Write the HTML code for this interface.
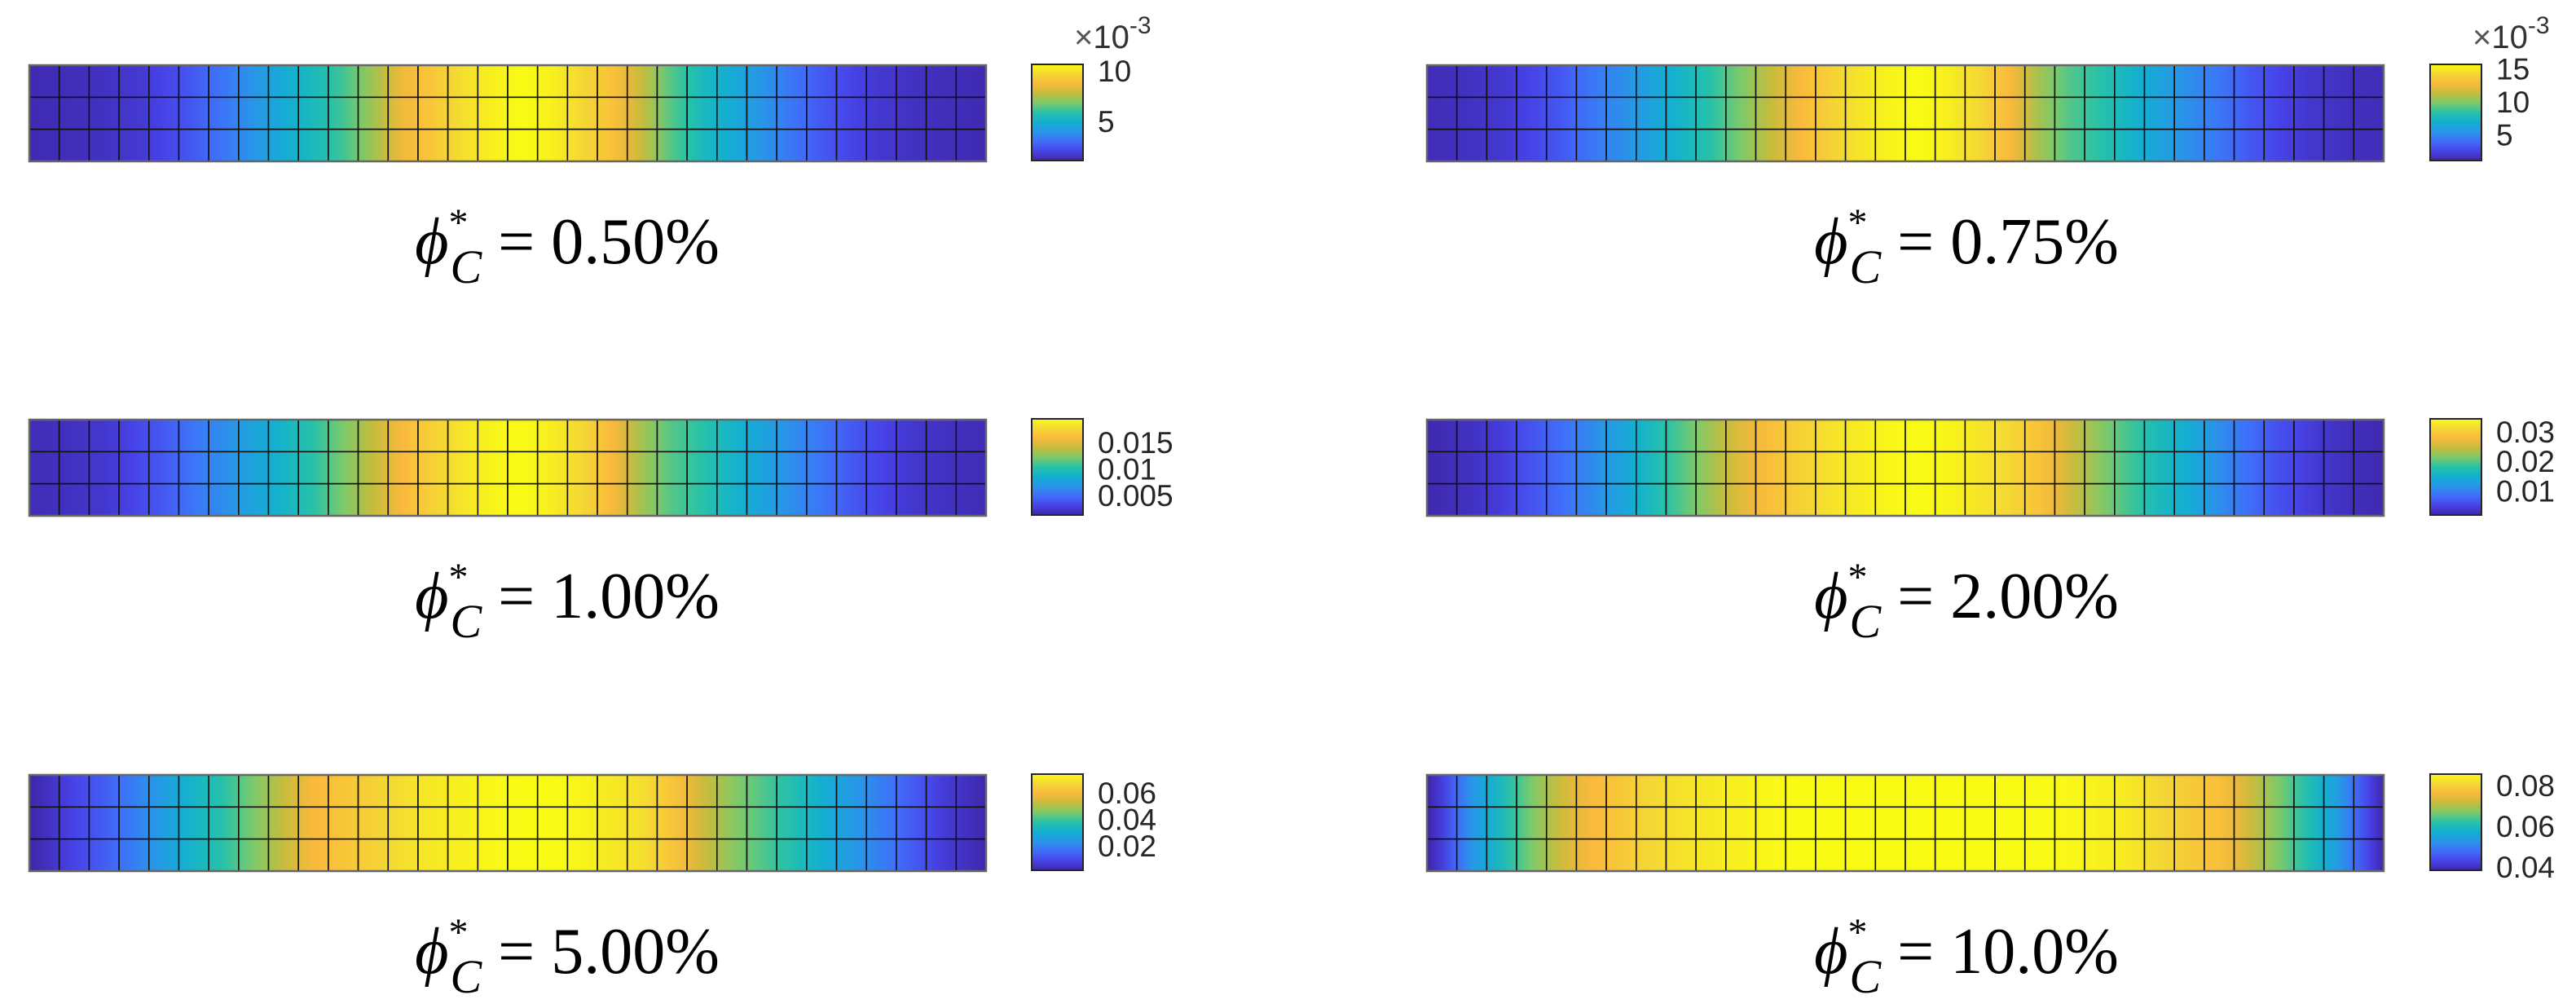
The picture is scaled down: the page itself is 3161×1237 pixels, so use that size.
<!DOCTYPE html>
<html><head><meta charset="utf-8"><style>
html,body{margin:0;padding:0;background:#fff;}
svg{display:block;}
</style></head><body>
<svg id="fig" width="3161" height="1237" viewBox="0 0 3161 1237" xmlns="http://www.w3.org/2000/svg">
<defs id="defs"></defs>
<g id="root"></g>
</svg>
<script>
// ---- data ----
const panelLabels = ["0.50%","0.75%","1.00%","2.00%","5.00%","10.0%"];
const cMin = [0.00113,0.0011,0.0013,0.0018,0.0016,0.0384];
const cMax = [0.01065,0.0157,0.0195,0.0344,0.074,0.0856];
const tickValues = [[0.005,0.010],[0.005,0.010,0.015],[0.005,0.01,0.015],[0.01,0.02,0.03],[0.02,0.04,0.06],[0.04,0.06,0.08]];
const tickLabels = [["5","10"],["5","10","15"],["0.005","0.01","0.015"],["0.01","0.02","0.03"],["0.02","0.04","0.06"],["0.04","0.06","0.08"]];
const exponentLabels = ["-3","-3",null,null,null,null];
// normalized column levels (fraction of colorbar range), 32 columns each
const level0 = [.02,.03,.04,.06,.1,.15,.22,.3,.38,.45,.53,.65,.78,.85,.92,.97,1,.97,.9,.83,.7,.55,.45,.38,.3,.22,.15,.1,.06,.04,.03,.02];
const level1 = [.03,.04,.06,.1,.15,.22,.28,.35,.42,.5,.6,.7,.8,.88,.94,.98,1,.96,.9,.8,.65,.55,.5,.42,.35,.28,.22,.15,.1,.06,.04,.03];
const level2 = [.03,.04,.06,.1,.15,.22,.28,.35,.42,.5,.6,.7,.8,.88,.94,.98,1,.96,.9,.8,.65,.55,.5,.42,.35,.28,.22,.15,.1,.06,.04,.03];
const level3 = [.02,.04,.08,.14,.2,.27,.35,.45,.55,.65,.75,.82,.88,.93,.96,.99,1,.98,.94,.9,.83,.72,.62,.53,.45,.38,.28,.2,.13,.08,.04,.02];
const level4 = [.03,.1,.16,.24,.33,.42,.5,.6,.7,.8,.84,.88,.92,.95,.97,.99,1,1,.98,.95,.92,.84,.72,.62,.55,.48,.4,.32,.24,.16,.08,.03];
const level5 = [.08,.3,.45,.6,.72,.8,.85,.9,.93,.95,.97,.99,1,1,1,1,1,1,1,1,1,.99,.97,.95,.9,.86,.82,.72,.6,.47,.32,.1];
const levels = [level0,level1,level2,level3,level4,level5];

// ---- layout ----
const heatX = [36,1751], heatW = 1174, heatH = 118;
const rowY = [80,515,951];
const cbX = [1266,2982], cbW = 63;
const titleX = [696,2413];
const NS = "http://www.w3.org/2000/svg";
const parula = [[0,[62,38,168]],[0.1,[71,67,232]],[0.2,[64,110,250]],[0.3,[40,150,232]],[0.4,[18,176,208]],[0.5,[40,194,168]],[0.6,[124,202,106]],[0.7,[198,188,60]],[0.8,[250,185,60]],[0.9,[244,215,52]],[1,[249,251,21]]];
function cmap(t){t=Math.max(0,Math.min(1,t));for(let i=1;i<parula.length;i++){if(t<=parula[i][0]){const a=parula[i-1],b=parula[i];const f=(t-a[0])/(b[0]-a[0]);const c=a[1].map((v,k)=>Math.round(v+(b[1][k]-v)*f));return `rgb(${c[0]},${c[1]},${c[2]})`;}}return "rgb(249,251,21)";}
function el(tag,attrs,parent){const e=document.createElementNS(NS,tag);for(const k in attrs)e.setAttribute(k,attrs[k]);parent.appendChild(e);return e;}
const defs=document.getElementById('defs'), root=document.getElementById('root');

const cg=el('linearGradient',{id:'cbg',x1:0,y1:1,x2:0,y2:0},defs);
for(let i=0;i<=20;i++){el('stop',{offset:i/20,'stop-color':cmap(i/20)},cg);}

for(let p=0;p<6;p++){
  const col=p%2,row=Math.floor(p/2);
  const x0=heatX[col],y0=rowY[row];
  const vals=levels[p].map(t=>cMin[p]+t*(cMax[p]-cMin[p]));
  const norm=v=>(v-cMin[p])/(cMax[p]-cMin[p]);
  const n=vals.length,cw=heatW/n;
  const g=el('g',{},root);
  
  
  const edges=[];
  for(let i=0;i<=n;i++){
    if(i===0) edges.push(vals[0]-(vals[1]-vals[0])/2);
    else if(i===n) edges.push(vals[n-1]-(vals[n-2]-vals[n-1])/2);
    else edges.push((vals[i-1]+vals[i])/2);
  }
  for(let i=0;i<n;i++){
    const id='g'+p+'_'+i;
    const lg=el('linearGradient',{id:id,x1:0,y1:0,x2:1,y2:0},defs);
    el('stop',{offset:0,'stop-color':cmap(norm(edges[i]))},lg);
    el('stop',{offset:0.5,'stop-color':cmap(norm(vals[i]))},lg);
    el('stop',{offset:1,'stop-color':cmap(norm(edges[i+1]))},lg);
    for(let r=0;r<3;r++){
      const c=el('rect',{x:x0+i*cw,y:y0+r*heatH/3,width:cw,height:heatH/3,fill:'url(#'+id+')',stroke:'#111','stroke-width':1.6},g);
      
      
    }
  }
  const hb=el('rect',{x:x0,y:y0,width:heatW,height:heatH,fill:'none',stroke:'#666','stroke-width':2.5},g);
  
  
  const cx=cbX[col],cy=y0-1;
  const cb=el('rect',{x:cx,y:cy,width:cbW,height:heatH,fill:'url(#cbg)',stroke:'#262626','stroke-width':2},root);
  
  
  tickValues[p].forEach((v,k)=>{
    const ty=cy+heatH-norm(v)*heatH;
    const t=el('text',{x:cx+cbW+18,y:ty+13,'font-family':'Liberation Sans, sans-serif','font-size':37,fill:'#262626'},root);
    t.textContent=tickLabels[p][k];
    
    
  });
  if(exponentLabels[p]){
    const t=el('text',{x:cx+52,y:cy-20,'font-family':'Liberation Sans, sans-serif','font-size':40,fill:'#333'},root);
    t.innerHTML='<tspan font-size="40" fill="#555">×</tspan>10<tspan font-size="30" dy="-18">'+exponentLabels[p]+'</tspan>';
    
    
  }
  const by=y0+243;
  const tt=el('text',{x:titleX[col],y:by,'text-anchor':'middle','font-family':'Liberation Serif, serif','font-size':80,fill:'#000'},root);
  tt.innerHTML='<tspan font-style="italic">ϕ</tspan><tspan font-size="48" dy="-34">*</tspan><tspan font-style="italic" font-size="58" dx="-22" dy="58">C</tspan><tspan dx="20" dy="-24">=</tspan><tspan dx="20">'+panelLabels[p]+'</tspan>';
  
  
}
</script>
</body></html>
